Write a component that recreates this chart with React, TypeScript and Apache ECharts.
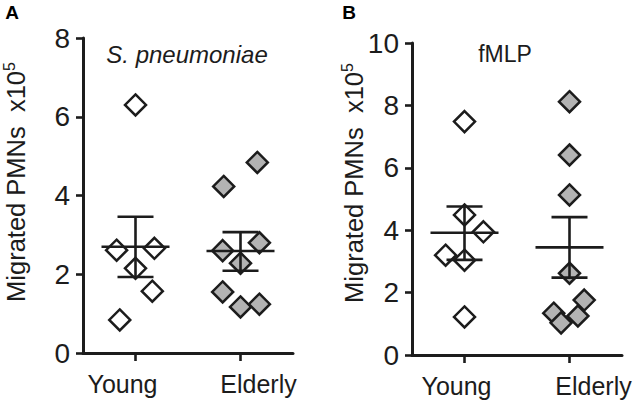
import React, { useEffect, useRef } from "react";
import * as echarts from "echarts";

// ---- data ----
const categories = ["Young", "Elderly"];

// Panel A: S. pneumoniae
const youngA = [6.3, 2.61, 2.66, 2.15, 1.57, 0.84];
const youngAJitter = [0, -0.18, 0.18, 0, 0.16, -0.15];
const elderlyA = [4.84, 4.23, 2.6, 2.8, 2.28, 1.55, 1.17, 1.24];
const elderlyAJitter = [0.16, -0.16, -0.17, 0.18, 0, -0.17, 0, 0.18];
const meanA = [2.7, 2.59];
const lowerA = [1.93, 2.09];
const upperA = [3.46, 3.07];

// Panel B: fMLP
const youngB = [7.48, 4.49, 3.95, 3.2, 3.04, 1.22];
const youngBJitter = [0, 0, 0.18, -0.18, 0, 0];
const elderlyB = [8.12, 6.41, 5.13, 2.62, 1.76, 1.34, 1.25, 1.03];
const elderlyBJitter = [0, 0, 0, 0, 0.14, -0.15, 0.08, -0.08];
const meanB = [3.92, 3.45];
const lowerB = [3.05, 2.48];
const upperB = [4.76, 4.42];

const yTicksA = { min: 0, max: 8, interval: 2 };
const yTicksB = { min: 0, max: 10, interval: 2 };

const FONT = "'Liberation Sans', Arial, sans-serif";
const INK = "#1c1c1c";

const groupCenter = [0.5, 1.5];

function pts(values: number[], jitter: number[], gi: number) {
  return values.map((v, i) => [groupCenter[gi] + jitter[i], v]);
}

function statData(mean: number[], lo: number[], hi: number[]) {
  return mean.map((m, i) => [groupCenter[i], m, lo[i], hi[i]]);
}

const renderStat = (params: any, api: any) => {
  const x = api.value(0);
  const pm = api.coord([x, api.value(1)]);
  const pl = api.coord([x, api.value(2)]);
  const ph = api.coord([x, api.value(3)]);
  const style = { stroke: INK, lineWidth: 2.6 };
  const mw = 34;
  const cw = 18;
  return {
    type: "group",
    children: [
      { type: "line", shape: { x1: pm[0] - mw, y1: pm[1], x2: pm[0] + mw, y2: pm[1] }, style },
      { type: "line", shape: { x1: pm[0], y1: pl[1], x2: pm[0], y2: ph[1] }, style },
      { type: "line", shape: { x1: pm[0] - cw, y1: ph[1], x2: pm[0] + cw, y2: ph[1] }, style },
      { type: "line", shape: { x1: pm[0] - cw, y1: pl[1], x2: pm[0] + cw, y2: pl[1] }, style },
    ],
  };
};

function catAxis(gridIndex: number, pads: number[][]) {
  return {
    type: "category",
    gridIndex,
    data: categories.map((c, i) => ({ value: c, textStyle: { padding: pads[i] } })),
    boundaryGap: true,
    axisLine: { show: true, lineStyle: { color: INK, width: 3 } },
    axisTick: { show: true, alignWithLabel: true, length: 8, lineStyle: { color: INK, width: 2.6 } },
    axisLabel: { fontSize: 25, color: INK, fontFamily: FONT, margin: 18 },
    splitLine: { show: false },
  };
}

function valXAxis(gridIndex: number) {
  return { type: "value", gridIndex, min: 0, max: 2, show: false };
}

function valYAxis(gridIndex: number, t: { min: number; max: number; interval: number }) {
  return {
    type: "value",
    gridIndex,
    min: t.min,
    max: t.max,
    interval: t.interval,
    axisLine: { show: true, lineStyle: { color: INK, width: 3 } },
    axisTick: { show: true, length: 7, lineStyle: { color: INK, width: 2.6 } },
    axisLabel: { fontSize: 28, color: INK, fontFamily: FONT, margin: 13 },
    splitLine: { show: false },
  };
}

function scatter(data: number[][], xi: number, yi: number, fill: string) {
  return {
    type: "scatter",
    xAxisIndex: xi,
    yAxisIndex: yi,
    data,
    symbol: "diamond",
    symbolSize: 21,
    itemStyle: { color: fill, borderColor: INK, borderWidth: 2.5, opacity: 1 },
    z: 2,
  };
}

function yTitle(x: number, y: number) {
  return {
    type: "text",
    x,
    y,
    rotation: Math.PI / 2,
    style: {
      text: "{a|Migrated PMNs  x10}{s|5}",
      align: "center",
      verticalAlign: "middle",
      fill: INK,
      rich: {
        a: { fontSize: 25.5, fontFamily: FONT, fill: INK, lineHeight: 30, verticalAlign: "middle" },
        s: { fontSize: 16, fontFamily: FONT, fill: INK, lineHeight: 30, verticalAlign: "top" },
      },
    },
  };
}

export default function App() {
  const ref = useRef<HTMLDivElement>(null);
  useEffect(() => {
    if (!ref.current) return;
    const chart = echarts.init(ref.current, undefined, { renderer: "svg" });
    chart.setOption({
      animation: false,
      backgroundColor: "#ffffff",
      textStyle: { fontFamily: FONT },
      grid: [
        { left: 83, top: 38, width: 210, height: 315 },
        { left: 412, top: 43, width: 210, height: 312 },
      ],
      xAxis: [
        catAxis(0, [[0, 26, 0, 0], [0, 0, 0, 36]]),
        valXAxis(0),
        catAxis(1, [[0, 16, 0, 0], [0, 0, 0, 48]]),
        valXAxis(1),
      ],
      yAxis: [valYAxis(0, yTicksA), valYAxis(1, yTicksB)],
      series: [
        scatter(pts(youngA, youngAJitter, 0), 1, 0, "#ffffff"),
        scatter(pts(elderlyA, elderlyAJitter, 1), 1, 0, "#b3b3b3"),
        {
          type: "custom",
          xAxisIndex: 1,
          yAxisIndex: 0,
          data: statData(meanA, lowerA, upperA),
          encode: { x: 0, y: [1, 2, 3] },
          renderItem: renderStat,
          z: 5,
        },
        scatter(pts(youngB, youngBJitter, 0), 3, 1, "#ffffff"),
        scatter(pts(elderlyB, elderlyBJitter, 1), 3, 1, "#b3b3b3"),
        {
          type: "custom",
          xAxisIndex: 3,
          yAxisIndex: 1,
          data: statData(meanB, lowerB, upperB),
          encode: { x: 0, y: [1, 2, 3] },
          renderItem: renderStat,
          z: 5,
        },
      ],
      graphic: [
        {
          type: "text",
          x: 12,
          y: 12,
          style: { text: "A", fontSize: 19, fontWeight: "bold", fontFamily: FONT, fill: "#000", align: "center", verticalAlign: "middle" },
        },
        {
          type: "text",
          x: 349,
          y: 12,
          style: { text: "B", fontSize: 19, fontWeight: "bold", fontFamily: FONT, fill: "#000", align: "center", verticalAlign: "middle" },
        },
        {
          type: "text",
          x: 187,
          y: 54,
          style: { text: "S. pneumoniae", fontSize: 24, fontStyle: "italic", fontFamily: FONT, fill: INK, align: "center", verticalAlign: "middle" },
        },
        {
          type: "text",
          x: 505,
          y: 54,
          style: { text: "fMLP", fontSize: 23, fontFamily: FONT, fill: INK, align: "center", verticalAlign: "middle" },
        },
        yTitle(16, 182),
        yTitle(354, 183),
      ],
    });
    return () => chart.dispose();
  }, []);
  return (
    <div
      ref={ref}
      style={{ position: "fixed", left: 0, top: 0, width: 638, height: 411, background: "#fff" }}
    />
  );
}
